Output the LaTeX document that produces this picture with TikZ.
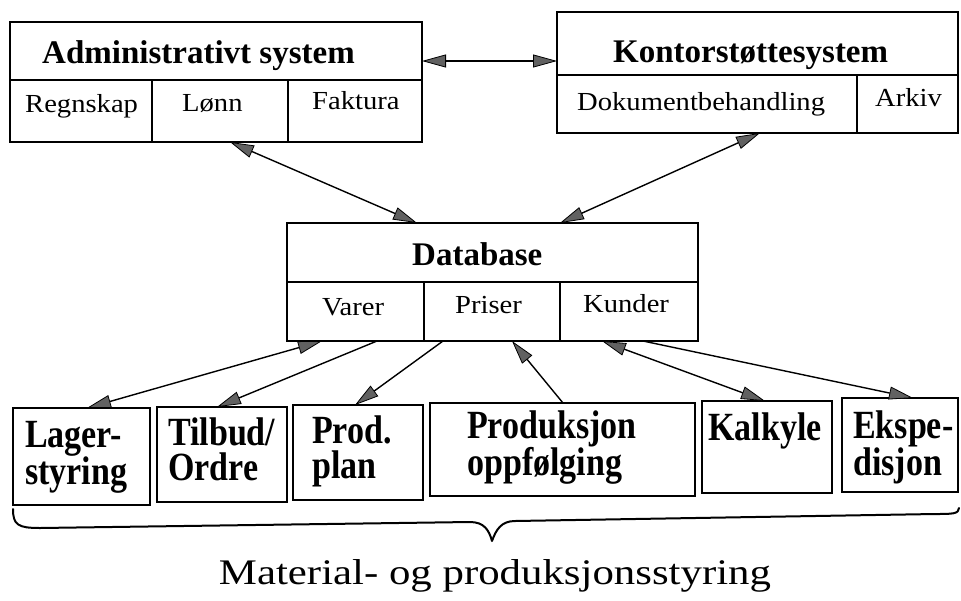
\documentclass[tikz,border=0pt]{standalone}
\usepackage{fontspec}
\setmainfont{Liberation Serif}
\newfontfamily\subfont[FakeStretch=1.1]{Liberation Serif}
\newfontfamily\modfont[FakeStretch=0.85]{Liberation Serif}
\newfontfamily\capfont[FakeStretch=1.19]{Liberation Serif}
\usetikzlibrary{arrows.meta}

\tikzset{
  box/.style={draw, line width=2pt, inner sep=0pt, outer sep=0pt, anchor=north west},
  divider/.style={line width=1.8pt},
  title/.style={anchor=base west, inner sep=0pt, font=\fontsize{33}{38}\selectfont\bfseries},
  part/.style={anchor=base west, inner sep=0pt, font=\subfont\fontsize{26}{30}\selectfont},
  module/.style={anchor=base west, inner sep=0pt, align=left, text width=#1,
    font=\modfont\fontsize{40}{35}\selectfont\bfseries},
  caption/.style={anchor=base, inner sep=0pt, font=\capfont\fontsize{36}{40}\selectfont},
  dbtip/.tip={Triangle[length=24pt, width=13pt, fill=black!62, line width=0.8pt]},
  link/.style={line width=1.4pt, -dbtip},
  link2/.style={line width=1.4pt, dbtip-dbtip},
  bracket/.style={line width=2pt, line cap=round, line join=round},
}

\begin{document}
\begin{tikzpicture}[x=1pt, y=-1pt]
  \fill[white] (0,0) rectangle (961,600);
  \useasboundingbox (0,0) rectangle (961,600);

  % upper systems
  \node[box, minimum width=412pt, minimum height=120pt] (admin) at (10,22) {};
  \draw[divider] ([yshift=-58pt]admin.north west) -- ([yshift=-58pt]admin.north east);
  \draw[divider] ([xshift=142pt]admin.south west) -- ([xshift=142pt, yshift=-58pt]admin.north west);
  \draw[divider] ([xshift=278pt]admin.south west) -- ([xshift=278pt, yshift=-58pt]admin.north west);
  \node[title] (adminT) at (42,63) {Administrativt system};
  \node[part] (regnskap) at (25,112) {Regnskap};
  \node[part] (lonn) at (182,111) {Lønn};
  \node[part] (faktura) at (312,109) {Faktura};

  \node[box, minimum width=401pt, minimum height=121pt] (kontor) at (557,12) {};
  \draw[divider] ([yshift=-63pt]kontor.north west) -- ([yshift=-63pt]kontor.north east);
  \draw[divider] ([xshift=300pt]kontor.south west) -- ([xshift=300pt, yshift=-63pt]kontor.north west);
  \node[title] (kontorT) at (613,62) {Kontorstøttesystem};
  \node[part] (dok) at (577,110) {Dokumentbehandling};
  \node[part] (arkiv) at (875,106) {Arkiv};

  % database
  \node[box, minimum width=411pt, minimum height=118pt] (db) at (287,223) {};
  \draw[divider] ([yshift=-59pt]db.north west) -- ([yshift=-59pt]db.north east);
  \draw[divider] ([xshift=137pt]db.south west) -- ([xshift=137pt, yshift=-59pt]db.north west);
  \draw[divider] ([xshift=273pt]db.south west) -- ([xshift=273pt, yshift=-59pt]db.north west);
  \node[title] (dbT) at (412,265) {Database};
  \node[part] (varer) at (322,315) {Varer};
  \node[part] (priser) at (455,313) {Priser};
  \node[part] (kunder) at (583,312) {Kunder};

  % production modules
  \node[box, minimum width=137pt, minimum height=97pt] (lager) at (13,408) {};
  \node[box, minimum width=130pt, minimum height=95pt] (tilbud) at (157,407) {};
  \node[box, minimum width=130pt, minimum height=95pt] (prodplan) at (293,405) {};
  \node[box, minimum width=265pt, minimum height=93pt] (oppf) at (430,403) {};
  \node[box, minimum width=130pt, minimum height=92pt] (kalkyle) at (702,401) {};
  \node[box, minimum width=116pt, minimum height=94pt] (eksp) at (842,398) {};

  \node[module=118pt] (lagerT) at (25,447) {Lager-\\styring};
  \node[module=112pt] (tilbudT) at (168,445) {Tilbud/\\Ordre};
  \node[module=105pt] (prodplanT) at (312,443) {Prod.\\plan};
  \node[module=220pt] (oppfT) at (467,438) {Produksjon\\oppfølging};
  \node[module=118pt] (kalkyleT) at (708,440) {Kalkyle};
  \node[module=105pt] (ekspT) at (853,438) {\mbox{Ekspe-}\\disjon};

  % connections
  \draw[link2] ([yshift=21pt]admin.east) -- ([yshift=11.5pt]kontor.west);
  \draw[link2] ([xshift=220pt]admin.south west) -- ([xshift=130pt]db.north west);
  \draw[link2] ([xshift=203pt]kontor.south west) -- ([xshift=273pt]db.north west);
  \draw[link2] ([xshift=35pt]db.south west) -- ([xshift=74pt]lager.north west);
  \draw[link] ([xshift=90pt]db.south west) -- ([xshift=60pt]tilbud.north west);
  \draw[link] ([xshift=156pt]db.south west) -- ([xshift=62pt]prodplan.north west);
  \draw[link] ([xshift=133pt]oppf.north west) -- ([xshift=225pt]db.south west);
  \draw[link2] ([xshift=315pt]db.south west) -- ([xshift=63pt]kalkyle.north west);
  \draw[link] ([xshift=356pt]db.south west) -- ([xshift=71pt]eksp.north west);

  % grouping brace
  \draw[bracket] (13,509) .. controls (13,525) and (18,528) .. (40,528)
    -- (470,522) .. controls (484,522) and (489,530) .. (492,541)
    .. controls (496,530) and (501,521) .. (515,521)
    -- (935,514) .. controls (952,514) and (959,514) .. (959,508);
  \node[caption] (group) at (495,584) {Material- og produksjonsstyring};
\end{tikzpicture}
\end{document}
